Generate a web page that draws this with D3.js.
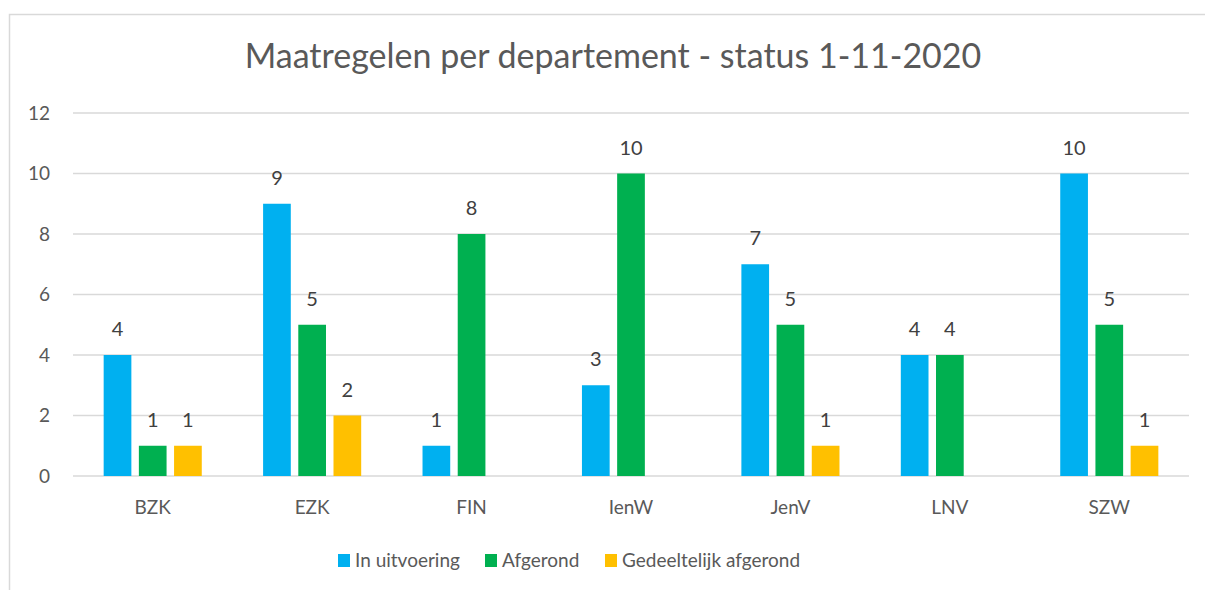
<!DOCTYPE html>
<html>
<head>
<meta charset="utf-8">
<script src="https://cdn.jsdelivr.net/npm/d3@7"></script>
<style>
  html, body { margin: 0; padding: 0; background: #fff; }
  svg { display: block; font-family: Lato, "Open Sans", sans-serif; }
</style>
</head>
<body>
<svg id="chart" width="1205" height="590"></svg>
<script>
const categories = ["BZK", "EZK", "FIN", "IenW", "JenV", "LNV", "SZW"];
const seriesNames = ["In uitvoering", "Afgerond", "Gedeeltelijk afgerond"];
const inUitvoering = [4, 9, 1, 3, 7, 4, 10];
const afgerond = [1, 5, 8, 10, 5, 4, 5];
const gedeeltelijk = [1, 2, null, null, 1, null, 1];
const yTicks = [0, 2, 4, 6, 8, 10, 12];
const colors = ["#00B0F0", "#00B050", "#FFC000"];

const seriesValues = [inUitvoering, afgerond, gedeeltelijk];

const svg = d3.select("#chart");

// chart border
svg.append("rect")
  .attr("x", 9.5).attr("y", 14.5)
  .attr("width", 1220).attr("height", 620)
  .attr("fill", "none")
  .attr("stroke", "#d9d9d9")
  .attr("stroke-width", 1.5);

// title
svg.append("text")
  .attr("x", 613).attr("y", 68)
  .attr("text-anchor", "middle")
  .attr("font-size", 34)
  .attr("fill", "#595959")
  .text("Maatregelen per departement - status 1-11-2020");

const x = d3.scaleBand()
  .domain(categories)
  .range([73, 1189])
  .padding(0);

const groupW = 98.1;
const xs = d3.scaleBand()
  .domain(seriesNames)
  .range([0, groupW])
  .paddingInner(0.213)
  .paddingOuter(0);

const y = d3.scaleLinear()
  .domain([0, 12])
  .range([476, 113]);

// gridlines + y labels
svg.append("g")
  .selectAll("line")
  .data(yTicks)
  .join("line")
  .attr("x1", 73).attr("x2", 1189)
  .attr("y1", d => y(d)).attr("y2", d => y(d))
  .attr("stroke", "#d9d9d9")
  .attr("stroke-width", 1.5);

svg.append("g")
  .selectAll("text")
  .data(yTicks)
  .join("text")
  .attr("x", 50)
  .attr("y", d => y(d))
  .attr("dy", "0.35em")
  .attr("text-anchor", "end")
  .attr("font-size", 19)
  .attr("fill", "#595959")
  .text(d => d);

// category labels
svg.append("g")
  .selectAll("text")
  .data(categories)
  .join("text")
  .attr("x", d => x(d) + x.bandwidth() / 2)
  .attr("y", 507)
  .attr("dy", "0.35em")
  .attr("text-anchor", "middle")
  .attr("font-size", 19)
  .attr("fill", "#595959")
  .text(d => d);

// bars
const rows = [];
categories.forEach((c, i) => {
  seriesNames.forEach((s, j) => {
    const v = seriesValues[j][i];
    if (v != null) rows.push({ cat: c, series: s, idx: j, value: v });
  });
});

const offset = (x.bandwidth() - groupW) / 2;

svg.append("g")
  .selectAll("rect")
  .data(rows)
  .join("rect")
  .attr("x", d => x(d.cat) + offset + xs(d.series))
  .attr("y", d => y(d.value))
  .attr("width", xs.bandwidth())
  .attr("height", d => y(0) - y(d.value))
  .attr("fill", d => colors[d.idx]);

// data labels
svg.append("g")
  .selectAll("text")
  .data(rows)
  .join("text")
  .attr("x", d => x(d.cat) + offset + xs(d.series) + xs.bandwidth() / 2)
  .attr("y", d => y(d.value) - 26)
  .attr("dy", "0.35em")
  .attr("text-anchor", "middle")
  .attr("font-size", 20)
  .attr("fill", "#404040")
  .text(d => d.value);

// legend
const legendX = [338, 485, 605];
const legend = svg.append("g")
  .selectAll("g")
  .data(seriesNames)
  .join("g")
  .attr("transform", (d, i) => `translate(${legendX[i]},560)`);

legend.append("rect")
  .attr("x", 0).attr("y", -6)
  .attr("width", 12).attr("height", 13)
  .attr("fill", (d, i) => colors[i]);

legend.append("text")
  .attr("x", 17)
  .attr("y", 0)
  .attr("dy", "0.35em")
  .attr("font-size", 19)
  .attr("fill", "#595959")
  .text(d => d);
</script>
</body>
</html>
